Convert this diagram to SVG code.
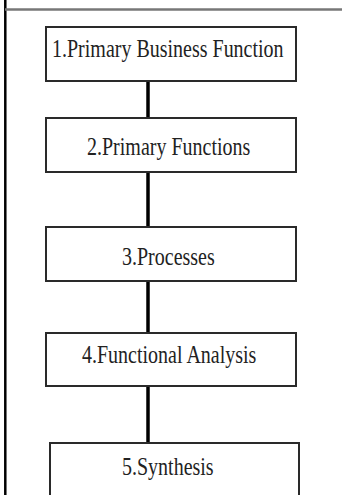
<svg xmlns="http://www.w3.org/2000/svg" width="342" height="495" viewBox="0 0 342 495">
<style>
.box{fill:#fff;stroke:#2a2a2a;stroke-width:2}
.lbl{font-family:"Liberation Serif","Times New Roman",serif;font-size:20px;fill:#222}
.conn{stroke:#000;stroke-width:3.5;fill:none}
</style>
<rect x="0" y="0" width="342" height="495" fill="#fff"/>
<g id="frame">
<line x1="5.3" y1="0" x2="5.3" y2="495" stroke="#000" stroke-width="2.5"/>
<line x1="5" y1="9.5" x2="342" y2="9.5" stroke="#777" stroke-width="2.5"/>
</g>
<g id="connectors">
<line class="conn" x1="148" y1="81" x2="148" y2="118"/>
<line class="conn" x1="148" y1="172" x2="148" y2="227"/>
<line class="conn" x1="148" y1="281" x2="148" y2="333"/>
<line class="conn" x1="148" y1="386" x2="148" y2="443"/>
</g>
<g id="node1">
<rect class="box" x="46" y="27" width="250" height="54"/>
<text class="lbl" transform="translate(52,57) scale(1,1.3)">1.Primary Business Function</text>
</g>
<g id="node2">
<rect class="box" x="46" y="118" width="250" height="54"/>
<text class="lbl" transform="translate(87,155) scale(1,1.3)">2.Primary Functions</text>
</g>
<g id="node3">
<rect class="box" x="46" y="227" width="250" height="54"/>
<text class="lbl" transform="translate(122,265) scale(1,1.3)">3.Processes</text>
</g>
<g id="node4">
<rect class="box" x="46" y="333" width="250" height="53"/>
<text class="lbl" transform="translate(82,363) scale(1,1.3)">4.Functional Analysis</text>
</g>
<g id="node5">
<rect class="box" x="50" y="443" width="249" height="62"/>
<text class="lbl" transform="translate(122,475) scale(1,1.3)">5.Synthesis</text>
</g>
</svg>
